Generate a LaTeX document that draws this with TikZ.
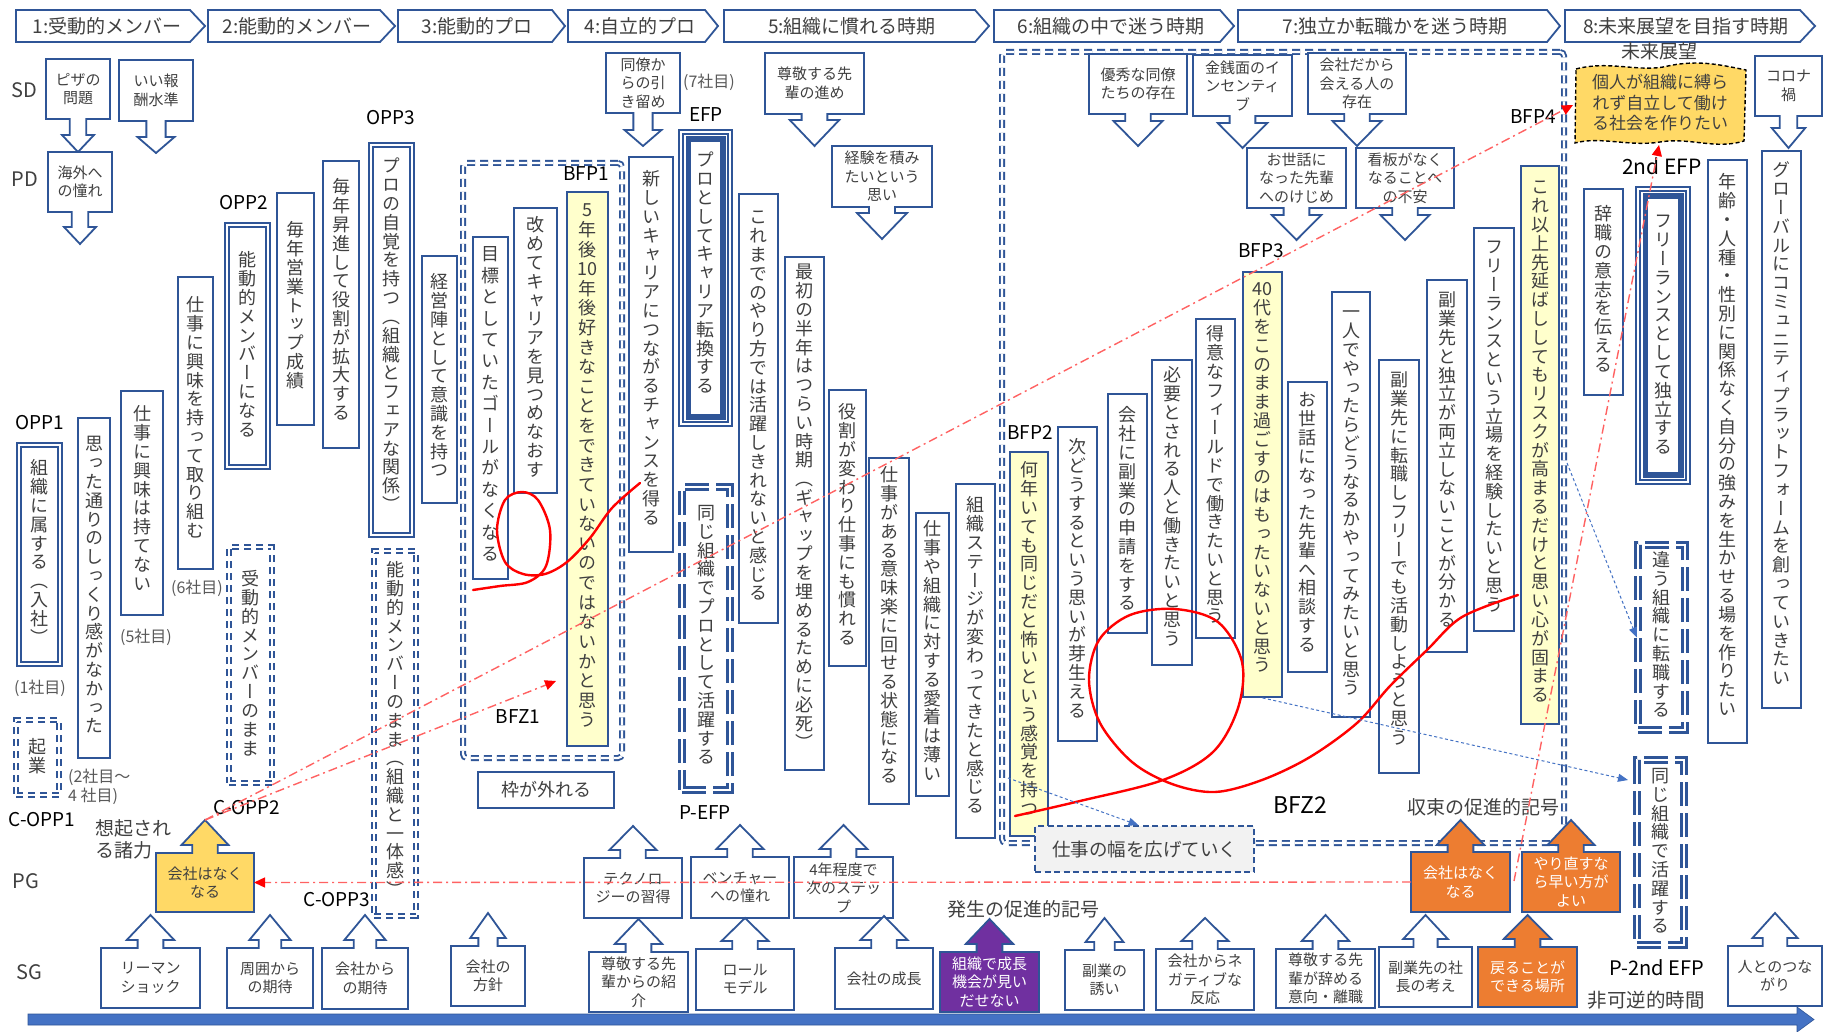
\documentclass[tikz,border=0pt]{standalone}
\usepackage{fontspec}
\setmainfont{Noto Sans CJK JP}
\newfontfamily\vjp[RawFeature=+vert]{Noto Sans CJK JP}
\usetikzlibrary{arrows.meta}
\definecolor{bl}{HTML}{2F5597}
\definecolor{axis}{HTML}{4472C4}
\definecolor{txt}{HTML}{404040}
\definecolor{gry}{HTML}{595959}
\definecolor{gold}{HTML}{FFD966}
\definecolor{org}{HTML}{ED7D31}
\definecolor{pur}{HTML}{7030A0}
\definecolor{lyel}{HTML}{FFFFCC}
\definecolor{rdl}{HTML}{FF6262}
\definecolor{haze}{HTML}{F2F2F2}

% ---- vertical (tategaki) text: one glyph per cell, stacked
\def\vtp{1.045}
\let\vtEND\relax
\def\vtENDmark{\vtEND}
\newcommand\vt[1]{\vbox{\offinterlineskip\vtitem#1\vtEND}}
\def\vtitem#1{\def\vtarg{#1}\ifx\vtarg\vtENDmark\else\vtcell{#1}\expandafter\vtitem\fi}
\def\vtcell#1{\hbox to 1.1em{\hss\vrule width 0pt height .86em depth \dimexpr\vtp em-.86em\relax #1\hss}}

\tikzset{
  bx/.style={draw=bl,line width=1.8pt,fill=white,inner sep=0pt},
  ybx/.style={bx,fill=lyel},
  dbx/.style={draw=bl,line width=1.5pt,double=white,double distance=2.6pt,fill=white,inner sep=0pt},
  sdx/.style={draw=bl,line width=1.9pt,double=white,double distance=2.2pt,dash pattern=on 7pt off 5pt,fill=white,inner sep=0pt},
  ldx/.style={draw=bl,line width=2.5pt,double=white,double distance=2.6pt,dash pattern=on 24pt off 7pt,fill=white,inner sep=0pt},
  frame/.style={draw=bl,line width=1.9pt,double=white,double distance=2.2pt,dash pattern=on 8pt off 5pt,rounded corners=4pt,inner sep=0pt},
  vtxt/.style={font=\vjp\fontsize{18}{18}\selectfont,text=txt,inner sep=0pt},
  ctxt/.style={font=\fontsize{15}{18.5}\selectfont,align=center,inner sep=0pt},
  call/.style={draw=bl,line width=1.8pt,fill=white,line join=miter},
  gcall/.style={call,fill=gold},
  ocall/.style={call,fill=org},
  pcall/.style={call,fill=pur},
  hdrs/.style={draw=bl,line width=1.8pt,fill=white,line join=miter},
  htxt/.style={font=\fontsize{19}{19}\selectfont,text=txt,inner sep=0pt},
  lbl/.style={font=\fontsize{19}{19}\selectfont,text=black,inner sep=0pt},
  rowl/.style={font=\fontsize{20}{20}\selectfont,text=txt,inner sep=0pt},
  note/.style={font=\fontsize{16}{19}\selectfont,text=gry,inner sep=0pt},
  txtl/.style={font=\fontsize{19}{22}\selectfont,text=txt,inner sep=0pt},
  redpen/.style={draw=red,line width=2.4pt,line cap=round,line join=round},
  rdd/.style={draw=rdl,line width=1.4pt,dash pattern=on 9pt off 4pt on 2pt off 4pt,-{Triangle[length=11pt,width=10pt,color=red]}},
  bdot/.style={draw=axis,line width=1pt,dash pattern=on 3pt off 2.5pt,-{Triangle[length=10pt,width=8pt,color=axis]}},
}

% vertical box: [style]{name}{x1}{y1}{x2}{y2}{top pad}{text}
\newcommand\vb[8][bx]{%
  \pgfmathsetmacro\vbw{#5-#3}\pgfmathsetmacro\vbh{#6-#4}%
  \pgfmathsetmacro\vbx{(#3+#5)/2}\pgfmathsetmacro\vby{(#4+#6)/2}%
  \node[#1,minimum width=\vbw pt,minimum height=\vbh pt] (#2) at (\vbx,\vby) {};%
  \node[vtxt,anchor=north] (#2-t) at ([yshift=-#7pt]#2.north) {\vt{#8}};%
}
\def\ctc{txt}
% down-pointing callout: [style]{name}{x1}{y1}{x2}{y2}{shoulder y}{tip y}{text}
\newcommand\dcall[9][call]{%
  \pgfmathsetmacro\clw{#5-#3}\pgfmathsetmacro\clx{(#3+#5)/2}%
  \pgfmathsetmacro\cls{0.13*\clw}\pgfmathsetmacro\clh{0.25*\clw}%
  \draw[#1] (#3,#4) -- (#5,#4) -- (#5,#6) -- (\clx+\cls,#6) -- (\clx+\cls,#7) -- (\clx+\clh,#7) -- (\clx,#8) -- (\clx-\clh,#7) -- (\clx-\cls,#7) -- (\clx-\cls,#6) -- (#3,#6) -- cycle;%
  \node[ctxt,text=\ctc] (#2) at (\clx,{(#4+#6)/2}) {#9};%
  \coordinate (#2-tip) at (\clx,#8);%
}
% up-pointing callout: [style]{name}{x1}{y1}{x2}{y2}{shoulder y}{tip y}{text}
\newcommand\ucall[9][call]{%
  \pgfmathsetmacro\clw{#5-#3}\pgfmathsetmacro\clx{(#3+#5)/2}%
  \pgfmathsetmacro\cls{0.13*\clw}\pgfmathsetmacro\clh{0.24*\clw}%
  \draw[#1] (#3,#6) -- (#3,#4) -- (\clx-\cls,#4) -- (\clx-\cls,#7) -- (\clx-\clh,#7) -- (\clx,#8) -- (\clx+\clh,#7) -- (\clx+\cls,#7) -- (\clx+\cls,#4) -- (#5,#4) -- (#5,#6) -- cycle;%
  \node[ctxt,text=\ctc] (#2) at (\clx,{(#4+#6)/2}) {#9};%
  \coordinate (#2-tip) at (\clx,#8);%
  \coordinate (#2-w) at (#3,{(#4+#6)/2});%
  \coordinate (#2-e) at (#5,{(#4+#6)/2});%
}
% header chevron: {name}{x left}{x body end}{x tip}{text x}{text}
\newcommand\hdr[6]{%
  \draw[hdrs] (#2,10) -- (#3,10) -- (#4,26) -- (#3,42) -- (#2,42) -- cycle;%
  \node[htxt] (#1) at (#5,26) {#6};%
}

\begin{document}
\begin{tikzpicture}[x=1pt,y=-1pt]
\useasboundingbox (0,0) rectangle (1825,1032);
\fill[white] (0,0) rectangle (1825,1032);

% ---------- phase headers
\hdr{h1}{16}{190}{205}{107}{1:受動的メンバー}
\hdr{h2}{208}{380}{395}{297}{2:能動的メンバー}
\hdr{h3}{398}{552}{565}{477}{3:能動的プロ}
\hdr{h4}{568}{705}{718}{640}{4:自立的プロ}
\hdr{h5}{724}{975}{989}{852}{5:組織に慣れる時期}
\hdr{h6}{994}{1220}{1234}{1111}{6:組織の中で迷う時期}
\hdr{h7}{1238}{1547}{1560}{1395}{7:独立か転職かを迷う時期}
\hdr{h8}{1565}{1800}{1815}{1686}{8:未来展望を目指す時期}

% ---------- row labels
\node[rowl] (rsd) at (24,90) {SD};
\node[rowl] (rpd) at (25,179) {PD};
\node[rowl] (rpg) at (26,881) {PG};
\node[rowl] (rsg) at (29,972) {SG};

% ---------- bifurcation zones
\node[frame,minimum width=159pt,minimum height=595pt] (bfz1f) at (542.5,460.5) {};
\node[frame,minimum width=562pt,minimum height=791pt] (bfz2f) at (1283,447.5) {};

% ---------- vertical event boxes
\vb[dbx]{d1}{19}{445}{60}{664}{15}{組織に属する（入社）}
\vb{r1}{78}{418}{110}{758}{18}{思った通りのしっくり感がなかった}
\vb{r2}{121}{391}{163}{615}{15}{仕事に興味は持てない}
\vb{r3}{178}{277}{213}{569}{20}{仕事に興味を持って取り組む}
\vb[dbx]{d2}{227}{225}{268}{467}{27}{能動的メンバーになる}
\vb{r4}{277}{193}{314}{425}{29}{毎年営業トップ成績}
\vb{r5}{323}{161}{359}{448}{18}{毎年昇進して役割が拡大する}
\vb[dbx]{d3}{371}{145}{412}{535}{13}{プロの自覚を持つ（組織とフェアな関係）}
\vb{r6}{422}{256}{457}{503}{18}{経営陣として意識を持つ}
\vb[sdx]{s1}{16}{720}{59}{795}{19}{起業}
\vb[sdx]{s2}{229}{547}{272}{783}{24}{受動的メンバーのまま}
\vb[sdx]{s3}{374}{551}{416}{916}{11}{能動的メンバーのまま（組織と一体感）}

\def\vtp{1.19}
\vb{r7}{473}{237}{508}{579}{9}{目標としていたゴールがなくなる}
\def\vtp{1.045}
\vb{r8}{514}{208}{557}{493}{9}{改めてキャリアを見つめなおす}
\def\vtp{1.09}
\vb[ybx]{y1}{567}{192}{608}{746}{10}{5年後{10}年後好きなことをできていないのではないかと思う}
\def\vtp{1.045}
\vb{r9}{629}{157}{673}{552}{14}{新しいキャリアにつながるチャンスを得る}
\vb[dbx]{e1}{681}{132}{730}{424}{20}{プロとしてキャリア転換する}
\draw[bl,line width=5.5pt] ([shift={(8pt,-8pt)}]e1.north west) rectangle ([shift={(-8pt,8pt)}]e1.south east);
\vb[ldx]{l1}{682}{487}{730}{790}{18}{同じ組織でプロとして活躍する}
\vb{r10}{739}{194}{778}{623}{15}{これまでのやり方では活躍しきれないと感じる}
\vb{r11}{785}{257}{824}{770}{7}{最初の半年はつらい時期（ギャップを埋めるために必死）}
\vb{r12}{829}{390}{866}{666}{14}{役割が変わり仕事にも慣れる}
\vb{r13}{869}{458}{909}{804}{9}{仕事がある意味楽に回せる状態になる}
\vb{r14}{916}{513}{949}{796}{8}{仕事や組織に対する愛着は薄い}
\vb{r15}{956}{484}{995}{838}{13}{組織ステージが変わってきたと感じる}
\vb[ybx]{y2}{1010}{452}{1048}{836}{10}{何年いても同じだと怖いという感覚を持つ}
\vb{r16}{1058}{427}{1097}{741}{12}{次どうするという思いが芽生える}
\vb{r17}{1108}{394}{1147}{633}{13}{会社に副業の申請をする}
\vb{r18}{1152}{360}{1192}{665}{7}{必要とされる人と働きたいと思う}
\vb{r19}{1196}{319}{1235}{638}{7}{得意なフィールドで働きたいと思う}
\vb[ybx]{y3}{1243}{272}{1282}{697}{9}{{40}代をこのまま過ごすのはもったいないと思う}
\vb{r20}{1288}{382}{1327}{672}{10}{お世話になった先輩へ相談する}
\vb{r21}{1332}{292}{1370}{717}{12}{一人でやったらどうなるかやってみたいと思う}
\vb{r22}{1379}{360}{1419}{773}{12}{副業先に転職しフリーでも活動しようと思う}
\vb{r23}{1427}{280}{1467}{652}{12}{副業先と独立が両立しないことが分かる}
\vb{r24}{1474}{228}{1514}{631}{11}{フリーランスという立場を経験したいと思う}
\vb[ybx]{y4}{1521}{166}{1559}{724}{13}{これ以上先延ばししてもリスクが高まるだけと思い心が固まる}
\vb{r25}{1584}{189}{1623}{395}{17}{辞職の意志を伝える}
\vb[dbx]{e2}{1638}{189}{1688}{482}{24}{フリーランスとして独立する}
\draw[bl,line width=5.5pt] ([shift={(8pt,-8pt)}]e2.north west) rectangle ([shift={(-8pt,8pt)}]e2.south east);
\vb[ldx]{l2}{1638}{545}{1685}{730}{7}{違う組織に転職する}
\vb[ldx]{l3}{1637}{760}{1684}{945}{8}{同じ組織で活躍する}
\vb{r26}{1708}{160}{1747}{743}{14}{年齢・人種・性別に関係なく自分の強みを生かせる場を作りたい}
\vb{r27}{1762}{151}{1801}{708}{11}{グローバルにコミュニティプラットフォームを創っていきたい}

% ---------- SD / PD callouts
\dcall{sd1}{46}{59}{110}{119}{135}{152}{ピザの\\問題}
\dcall{sd2}{119}{60}{193}{121}{137}{153}{いい報\\酬水準}
\dcall{pd1}{48}{152}{112}{212}{227}{244}{海外へ\\の憧れ}
\dcall{sd3}{606}{53}{680}{113}{130}{146}{同僚か\\らの引\\き留め}
\dcall{sd4}{765}{53}{864}{114}{120}{146}{尊敬する先\\輩の進め}
\dcall{pd2}{832}{146}{932}{207}{213}{239}{経験を積み\\たいという\\思い}
\dcall{sd5}{1089}{54}{1187}{114}{121}{146}{優秀な同僚\\たちの存在}
\dcall{sd6}{1193}{55}{1292}{116}{123}{148}{金銭面のイ\\ンセンティ\\ブ}
\dcall{sd7}{1308}{53}{1406}{114}{121}{146}{会社だから\\会える人の\\存在}
\dcall{pd3}{1247}{148}{1346}{208}{215}{240}{お世話に\\なった先輩\\へのけじめ}
\dcall{pd4}{1356}{148}{1454}{208}{215}{240}{看板がなく\\なることへ\\の不安}
\dcall{sd8}{1755}{56}{1822}{116}{128}{148}{コロナ\\禍}

% ---------- PG / SG callouts
\ucall[gcall]{pg1}{156}{853}{254}{912}{845}{820}{会社はなく\\なる}
\ucall{pg2}{584}{858}{682}{918}{850}{826}{テクノロ\\ジーの習得}
\ucall{pg3}{691}{857}{789}{918}{849}{825}{ベンチャー\\への憧れ}
\ucall{pg4}{794}{857}{893}{918}{849}{825}{4年程度で\\次のステッ\\プ}
\ucall{sg1}{101}{948}{200}{1008}{940}{915}{リーマン\\ショック}
\ucall{sg2}{227}{948}{313}{1008}{940}{915}{周囲から\\の期待}
\ucall{sg3}{322}{948}{408}{1009}{940}{915}{会社から\\の期待}
\ucall{sg4}{451}{946}{525}{1006}{938}{913}{会社の\\方針}
\ucall{sg5}{589}{952}{688}{1012}{944}{919}{尊敬する先\\輩からの紹\\介}
\ucall{sg6}{696}{949}{794}{1010}{941}{918}{ロール\\モデル}
\ucall{sg7}{835}{948}{933}{1009}{940}{916}{会社の成長}
\ucall{sg9}{1065}{950}{1144}{1010}{942}{918}{副業の\\誘い}
\ucall{sg10}{1156}{949}{1254}{1010}{941}{918}{会社からネ\\ガティブな\\反応}
\ucall{sg11}{1276}{949}{1375}{1008}{941}{915}{尊敬する先\\輩が辞める\\意向・離職}
\ucall{sg12}{1379}{947}{1472}{1007}{939}{915}{副業先の社\\長の考え}
\ucall{sg14}{1728}{946}{1822}{1006}{938}{913}{人とのつな\\がり}
\def\ctc{white}
\ucall[pcall]{sg8}{940}{952}{1039}{1012}{944}{919}{組織で成長\\機会が見い\\だせない}
\ucall[ocall]{pg5}{1411}{852}{1510}{912}{845}{820}{会社はなく\\なる}
\ucall[ocall]{pg6}{1522}{852}{1620}{912}{845}{820}{やり直すな\\ら早い方が\\よい}
\ucall[ocall]{sg13}{1478}{947}{1577}{1007}{939}{915}{戻ることが\\できる場所}
\def\ctc{txt}

% ---------- boxed phrases
\node[draw=bl,line width=1.8pt,fill=white,minimum width=136pt,minimum height=36pt,inner sep=0pt,font=\fontsize{18}{18}\selectfont,text=txt] (waku) at (546,790) {枠が外れる};
\node[draw=bl,line width=1.6pt,dash pattern=on 6pt off 3.5pt,fill=haze,minimum width=219pt,minimum height=46pt,inner sep=0pt,font=\fontsize{18.5}{18.5}\selectfont,text=txt] (haba) at (1144.5,849) {仕事の幅を広げていく};

% ---------- future vision
\path[draw=black,line width=1.4pt,dash pattern=on 4pt off 2.5pt,fill=gold]
  (1576,69) .. controls (1610,60) and (1640,73) .. (1668,66) .. controls (1700,59) and (1725,66) .. (1746,70)
  -- (1744,141) .. controls (1715,150) and (1690,137) .. (1660,142) .. controls (1630,147) and (1600,136) .. (1575,143) -- cycle;
\node[font=\fontsize{17}{20.5}\selectfont,text=txt,align=center,inner sep=0pt] (vision) at (1660,103) {個人が組織に縛ら\\れず自立して働け\\る社会を作りたい};
\node[txtl] (mirai) at (1659,51) {未来展望};
\coordinate (vis-w) at (1573,105);
\coordinate (vis-s) at (1659,145);

% ---------- labels
\node[lbl] (opp1) at (40,423) {OPP1};
\node[lbl] (opp2) at (244,203) {OPP2};
\node[lbl] (opp3) at (391,118) {OPP3};
\node[lbl] (efp) at (706,115) {EFP};
\node[lbl] (bfp1) at (586,174) {BFP1};
\node[lbl] (bfp2) at (1030,433) {BFP2};
\node[lbl] (bfp3) at (1261,251) {BFP3};
\node[lbl] (bfp4) at (1533,117) {BFP4};
\node[lbl,font=\fontsize{21}{21}\selectfont] (efp2) at (1662,166) {2nd EFP};
\node[lbl] (pefp) at (705,813) {P-EFP};
\node[lbl,font=\fontsize{20}{20}\selectfont] (pefp2) at (1657,968) {P-2nd EFP};
\node[lbl] (bfz1) at (518,717) {BFZ1};
\node[lbl,font=\fontsize{23}{23}\selectfont] (bfz2) at (1300,805) {BFZ2};
\node[lbl] (copp1) at (42,820) {C-OPP1};
\node[lbl] (copp2) at (247,808) {C-OPP2};
\node[lbl] (copp3) at (337,900) {C-OPP3};

\node[note] (n1) at (40,688) {(1社目)};
\node[note] (n5) at (146,637) {(5社目)};
\node[note] (n6) at (197,588) {(6社目)};
\node[note] (n7) at (709,82) {(7社目)};
\node[note,align=left,anchor=west] (n24) at (68,787) {(2社目〜\\4 社目)};
\node[txtl,align=left,anchor=west] (souki) at (95,839) {想起され\\る諸力};
\node[txtl] (hassei) at (1023,909) {発生の促進的記号};
\node[txtl] (shusoku) at (1483,807) {収束の促進的記号};

% ---------- time axis
\path[fill=axis,draw=bl,line width=0.6pt] (28,1014) -- (1797,1014) -- (1797,1007) -- (1814,1019.5) -- (1797,1032) -- (1797,1025) -- (28,1025) -- cycle;
\node[txtl,font=\fontsize{19.5}{19.5}\selectfont] (hika) at (1646,1000) {非可逆的時間};

% ---------- hand-drawn trajectories
\draw[redpen] plot[smooth,tension=0.55] coordinates {(473,590) (500,586) (528,582) (546,566) (550,530) (538,500) (522,492) (505,500) (497,530) (505,562) (523,574) (545,574) (567,562) (590,538) (612,508) (640,483)};
\draw[redpen] plot[smooth,tension=0.55] coordinates {(1015,816) (1080,801) (1163,780) (1213,752) (1238,708) (1242,662) (1218,622) (1175,609) (1130,615) (1099,640) (1089,680) (1100,723) (1132,762) (1172,784) (1215,792) (1262,780) (1310,757) (1357,723) (1390,686) (1427,650) (1462,617) (1518,595)};

% ---------- dotted flows
\coordinate (ba-s) at (1008,778);
\coordinate (bb-e) at (1628,780);
\coordinate (bc-s) at (1567,463);
\draw[bdot] (ba-s) -- ([xshift=-6pt]haba.north);
\draw[bdot] (y3.south) -- (bb-e);
\draw[bdot] (bc-s) -- (l2.west);

% ---------- dash-dot flows
\coordinate (bfz1-in) at (556,681);
\coordinate (pg5-ne) at (1514,881);
\draw[rdd] (pg1-tip) -- (vis-w);
\draw[rdd] (pg1-tip) -- (bfz1-in);
\draw[rdd] (pg5-ne) -- (vis-s);
\draw[rdd] (pg5-w) -- (pg1-e);
\end{tikzpicture}
\end{document}
